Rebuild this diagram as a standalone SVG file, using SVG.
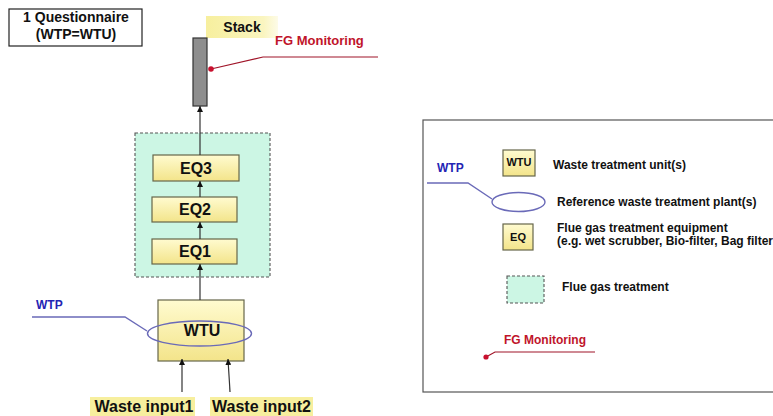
<svg xmlns="http://www.w3.org/2000/svg" width="773" height="416" viewBox="0 0 773 416">
<defs>
<linearGradient id="yel" x1="0" y1="0" x2="0" y2="1">
<stop offset="0" stop-color="#fffbd0"/>
<stop offset="1" stop-color="#f3e48a"/>
</linearGradient>
<linearGradient id="hl" x1="0" y1="0" x2="1" y2="0">
<stop offset="0" stop-color="#f7ef9e"/>
<stop offset="0.8" stop-color="#faf5c0"/>
<stop offset="1" stop-color="#fdfbe8"/>
</linearGradient>
<marker id="arr" viewBox="0 0 10 10" refX="10" refY="5" markerWidth="6" markerHeight="6" markerUnits="userSpaceOnUse" orient="auto">
<path d="M0,0 L10,5 L0,10 z" fill="#111"/>
</marker>
<style>
text{font-family:"Liberation Sans",Arial,sans-serif;font-weight:bold;fill:#111}
.box{fill:url(#yel);stroke:#66664a;stroke-width:1.2}
.fgt{fill:#ccf6e4;stroke:#555;stroke-width:1.1;stroke-dasharray:3 2}
.con{stroke:#333;stroke-width:1.2;fill:none;marker-end:url(#arr)}
.wtp{fill:none;stroke:#6a6ab8;stroke-width:1.4}
.blue{fill:#2424b4}
.red{fill:#c0142a}
.redl{fill:none;stroke:#a01428;stroke-width:1.2}
.c{text-anchor:middle}
</style>
</defs>

<g id="questionnaire">
<rect x="9" y="9" width="133" height="37" fill="#fff" stroke="#222" stroke-width="1.2"/>
<text x="76" y="22" font-size="14" class="c">1 Questionnaire</text>
<text x="76" y="39" font-size="14" class="c">(WTP=WTU)</text>
</g>

<g id="flue-gas-treatment">
<rect class="fgt" x="135" y="133" width="135" height="144"/>
</g>

<g id="stack">
<rect x="206" y="16" width="72" height="22" fill="url(#hl)"/>
<text x="242" y="32" font-size="14" class="c">Stack</text>
<rect x="193" y="38" width="14" height="68" fill="#8e8e8e" stroke="#333" stroke-width="1.2"/>
</g>

<g id="fg-monitoring">
<text x="275" y="45" font-size="13" class="red">FG Monitoring</text>
<polyline class="redl" points="211,69 263,57 378,57"/>
<circle cx="211" cy="69" r="2.8" fill="#c8102e"/>
</g>

<g id="eq3">
<rect class="box" x="153" y="155" width="86" height="26"/>
<text x="196" y="174" font-size="16" class="c">EQ3</text>
</g>
<g id="eq2">
<rect class="box" x="152" y="197" width="85" height="25"/>
<text x="195" y="215" font-size="16" class="c">EQ2</text>
</g>
<g id="eq1">
<rect class="box" x="152" y="239" width="85" height="25"/>
<text x="195" y="257" font-size="16" class="c">EQ1</text>
</g>

<g id="wtu">
<rect class="box" x="158" y="300" width="86" height="61"/>
<text x="202" y="336" font-size="16" class="c">WTU</text>
</g>

<g id="wtp">
<ellipse class="wtp" cx="199.5" cy="333.5" rx="52" ry="12.5"/>
<polyline class="wtp" points="32,317 125,317 147,331"/>
<text x="36" y="309" font-size="12" class="blue">WTP</text>
</g>

<g id="waste-input1">
<rect x="90" y="397" width="105" height="19" fill="#f7ef9e"/>
<text x="144" y="412" font-size="16" class="c">Waste input1</text>
</g>
<g id="waste-input2">
<rect x="210" y="397" width="103" height="19" fill="#f7ef9e"/>
<text x="261.5" y="412" font-size="16" class="c">Waste input2</text>
</g>

<g id="connectors">
<line class="con" x1="200" y1="155" x2="200" y2="106"/>
<line class="con" x1="200" y1="197" x2="200" y2="181"/>
<line class="con" x1="200" y1="239" x2="200" y2="222"/>
<line class="con" x1="200" y1="300" x2="200" y2="264"/>
<line class="con" x1="182" y1="392" x2="182" y2="359"/>
<line class="con" x1="230" y1="392" x2="228" y2="359"/>
</g>

<g id="legend">
<rect x="423" y="120" width="360" height="272" fill="#fff" stroke="#555" stroke-width="1.2"/>
<text x="437" y="172" font-size="12" class="blue">WTP</text>
<polyline class="wtp" points="427,183 468,183 492,199"/>
<ellipse class="wtp" cx="518.5" cy="202" rx="26.5" ry="9.5"/>
<text x="557" y="206" font-size="12">Reference waste treatment plant(s)</text>
<rect class="box" x="503" y="150" width="32" height="26"/>
<text x="519" y="166" font-size="11" class="c">WTU</text>
<text x="553" y="169" font-size="12">Waste treatment unit(s)</text>
<rect class="box" x="503" y="224" width="30" height="26"/>
<text x="518" y="241" font-size="11" class="c">EQ</text>
<text x="557" y="232" font-size="12">Flue gas treatment equipment</text>
<text x="557" y="245" font-size="12">(e.g. wet scrubber, Bio-filter,  Bag filter</text>
<rect class="fgt" x="507" y="276" width="37" height="27"/>
<text x="562" y="291" font-size="12">Flue gas treatment</text>
<text x="504" y="344" font-size="12" class="red">FG Monitoring</text>
<polyline class="redl" points="486,357 495,352 595,352"/>
<circle cx="486" cy="357" r="2.6" fill="#c8102e"/>
</g>
</svg>
